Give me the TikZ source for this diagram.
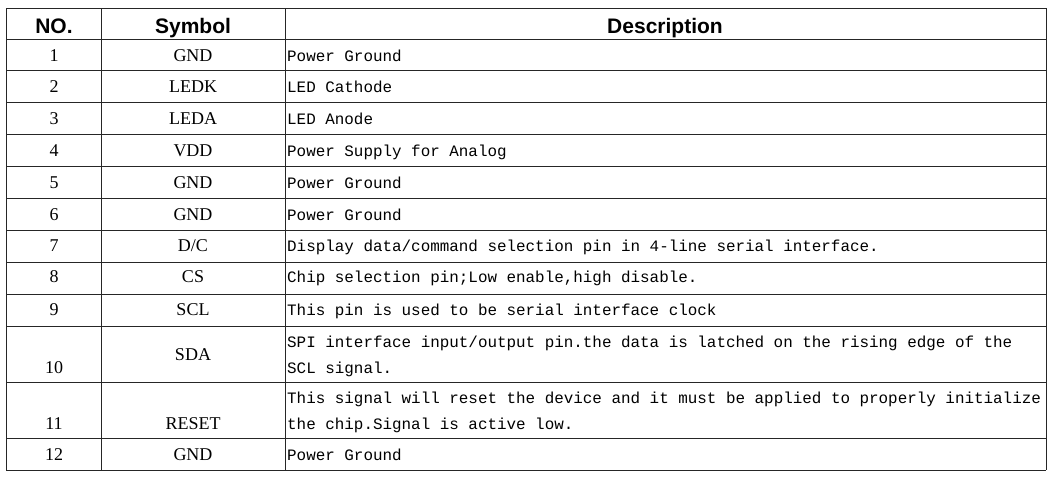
\documentclass[tikz,border=0pt]{standalone}
\usepackage{fontspec}
\setmainfont{Liberation Serif}
\newfontfamily\hdr{Liberation Sans}
\newfontfamily\mono{Liberation Mono}
\begin{document}
\begin{tikzpicture}[x=1pt,y=-1pt,
  grid/.style={draw=black!85,line width=0.9pt},
  hd/.style={font=\hdr\bfseries\fontsize{21}{22}\selectfont,anchor=base},
  cell/.style={font=\fontsize{18}{19}\selectfont,anchor=base},
  desc/.style={font=\mono\fontsize{15.9}{19}\selectfont,anchor=base west,inner sep=0pt}]
\useasboundingbox (0,0) rectangle (1051,479);
\foreach \y in {8,39,70,102,134,166,198,230,262,294,326,382,438,470}
  \draw[grid] (6,\y) -- (1046,\y);
\foreach \x in {6,101,285,1046}
  \draw[grid] (\x,8) -- (\x,470);
\node[hd] (h1) at (54,33) {NO.};
\node[hd] (h2) at (193,33) {Symbol};
\node[hd] (h3) at (665,33) {Description};
\foreach \n/\s/\d/\y in {1/GND/Power Ground/61,2/LEDK/LED Cathode/92,3/LEDA/LED Anode/124,4/VDD/Power Supply for Analog/156,5/GND/Power Ground/188,6/GND/Power Ground/220,7/D\slash C/Display data\slash command selection pin in 4-line serial interface./251,8/CS/{Chip selection pin;Low enable,high disable.}/282,9/SCL/This pin is used to be serial interface clock/315,12/GND/Power Ground/460}{
  \node[cell] (n\n) at (54,\y) {\n};
  \node[cell] (s\n) at (193,\y) {\s};
  \node[desc] (d\n) at (287,\y) {\d};
}
\node[cell] (n10) at (54,373) {10};
\node[cell] (s10) at (193,360) {SDA};
\node[desc] (d10a) at (287,347) {SPI interface input/output pin.the data is latched on the rising edge of the};
\node[desc] (d10b) at (287,373) {SCL signal.};
\node[cell] (n11) at (54,429) {11};
\node[cell] (s11) at (193,429) {RESET};
\node[desc] (d11a) at (287,403) {This signal will reset the device and it must be applied to properly initialize};
\node[desc] (d11b) at (287,429) {the chip.Signal is active low.};
\end{tikzpicture}
\end{document}
